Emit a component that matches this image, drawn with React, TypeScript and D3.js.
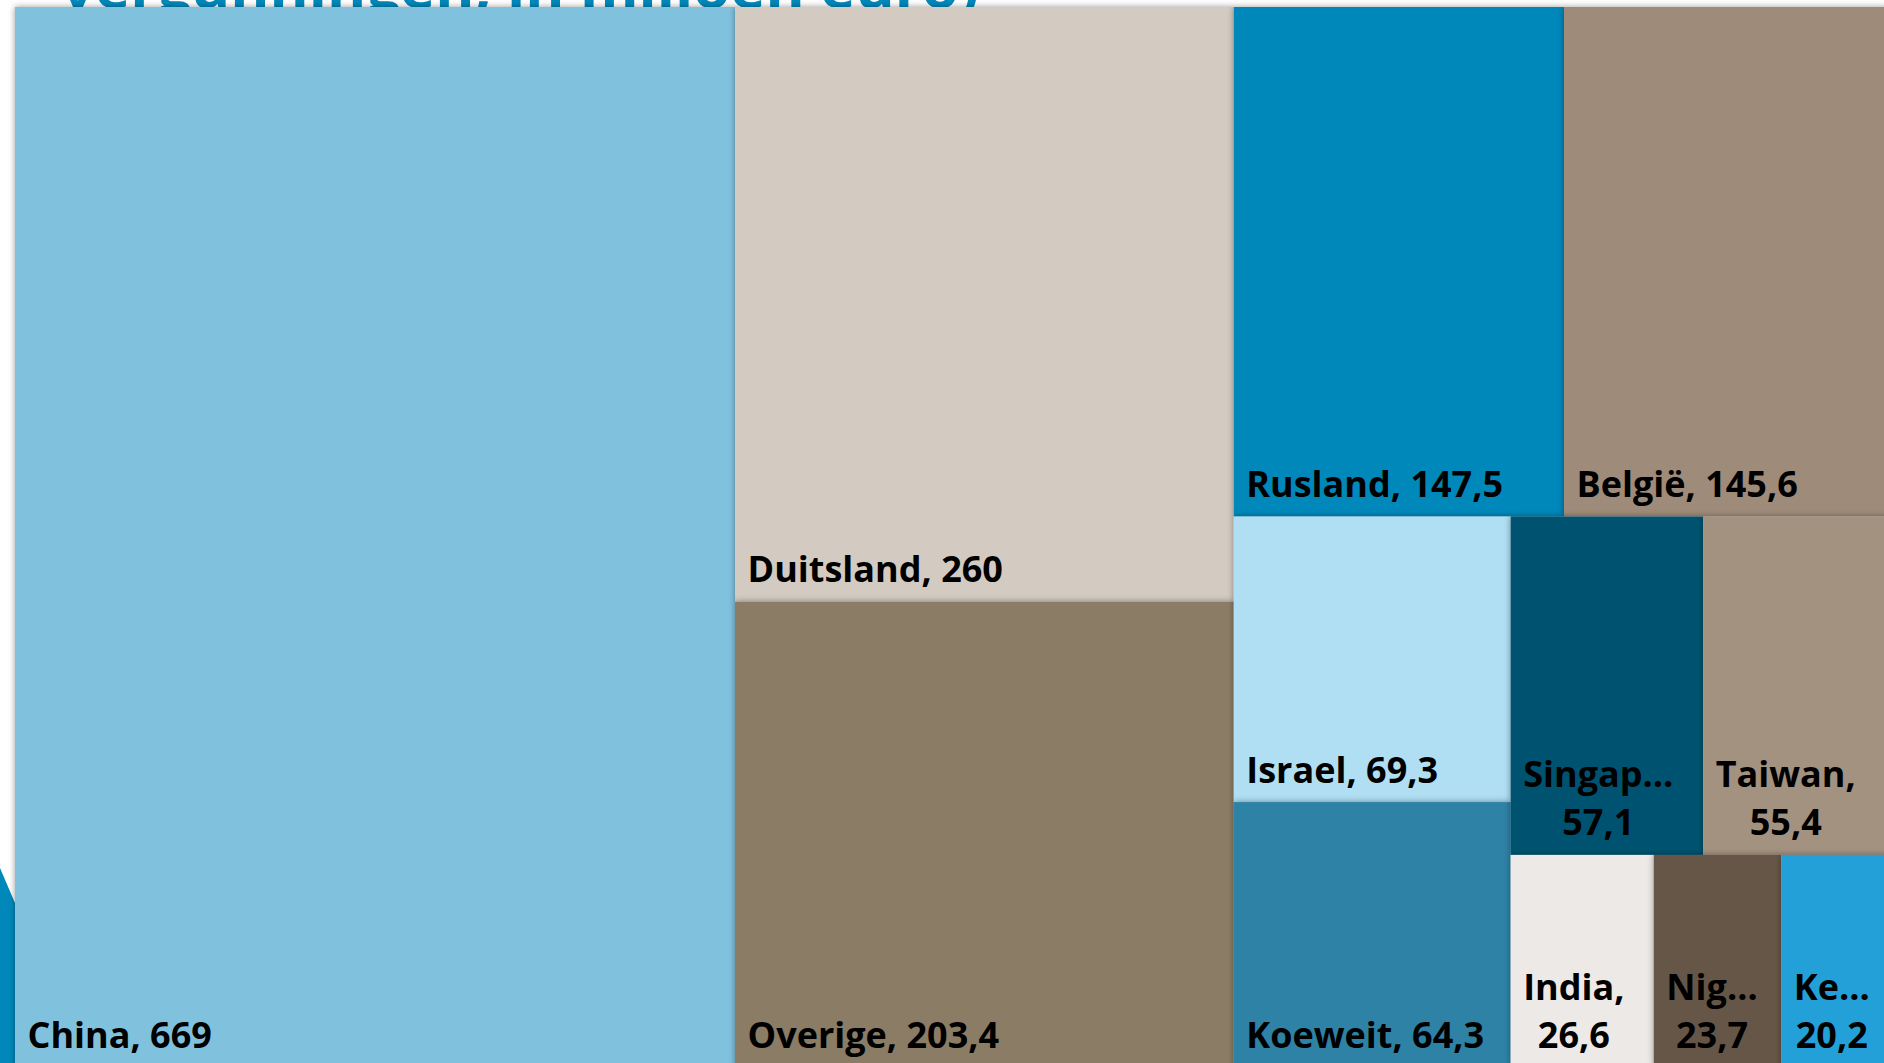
import React, { useMemo } from 'react';
import * as d3 from 'd3';

const countries = ['China', 'Duitsland', 'Overige', 'Rusland', 'België', 'Israel', 'Koeweit', 'Singapore', 'Taiwan', 'India', 'Nigeria', 'Kenia'];
const values = [669, 260, 203.4, 147.5, 145.6, 69.3, 64.3, 57.1, 55.4, 26.6, 23.7, 20.2];
const colors = ['#80C2DE', '#D3CBC1', '#8B7B65', '#0088BB', '#9F8B79', '#B0DEF2', '#2D82A6', '#005270', '#A49281', '#ECE9E6', '#665647', '#24A0D7'];
const titleText = 'vergunningen, in miljoen euro)';

const W = 1884;
const H = 1063;
const PLOT = { x0: 15, y0: 7, x1: 1890, y1: 1067 };
const FS = 36;
const LABEL_FONT = `700 ${FS}px 'Open Sans'`;
const PAD = 12.5;
const LINE = 48;
const BOTTOM = 19.5;

let ctx: CanvasRenderingContext2D | null = null;
function measure(t: string): number {
  if (!ctx) {
    const c = document.createElement('canvas');
    ctx = c.getContext('2d');
  }
  if (!ctx) return t.length * 18;
  ctx.font = LABEL_FONT;
  return ctx.measureText(t).width;
}

const fmt = (v: number) => String(v).replace('.', ',');

function labelLines(name: string, value: number, avail: number): string[] {
  const full = `${name}, ${fmt(value)}`;
  if (measure(full) <= avail) return [full];
  let first = `${name},`;
  if (measure(first) > avail) {
    first = name.slice(0, 1) + '...';
    for (let k = name.length - 1; k >= 1; k--) {
      const cand = name.slice(0, k) + '...';
      if (measure(cand) <= avail) { first = cand; break; }
    }
  }
  return [first, fmt(value)];
}

export default function App() {
  const leaves = useMemo(() => {
    const data = countries.map((c, i) => ({ name: c, value: values[i], color: colors[i] }));
    const root = d3.hierarchy<any>({ children: data }).sum((d: any) => d.value || 0);
    d3.treemap<any>()
      .tile(d3.treemapSquarify.ratio(1))
      .size([PLOT.x1 - PLOT.x0, PLOT.y1 - PLOT.y0])
      .paddingInner(0)(root);
    return root.leaves() as any[];
  }, []);

  return (
    <svg width={W} height={H} style={{ position: 'absolute', left: 0, top: 0, background: '#fff' }}>
      <defs>
        <filter id="sh" filterUnits="userSpaceOnUse" x={-50} y={-50} width={2000} height={1200}>
          <feDropShadow dx={0} dy={0} stdDeviation={3} floodColor="#000" floodOpacity={0.4} />
        </filter>
      </defs>
      <rect x={0} y={0} width={W} height={H} fill="#fff" />
      <polygon points="0,868 15,903 60,1063 0,1063" fill="#0088BB" />
      <text x={61} y={8} fill="#0088BB" fontFamily="'Open Sans'" fontWeight={700} fontSize={56}
        textLength={918} lengthAdjust="spacingAndGlyphs">{titleText}</text>
      <g transform={`translate(${PLOT.x0},${PLOT.y0})`}>
        {leaves.map((l, i) => (
          <rect key={i} x={l.x0} y={l.y0} width={l.x1 - l.x0} height={l.y1 - l.y0}
            fill={l.data.color} filter="url(#sh)" />
        ))}
        {leaves.map((l, i) => {
          const w = l.x1 - l.x0;
          const lines = labelLines(l.data.name, l.data.value, w - 2 * PAD);
          const bottom = l.y1 - BOTTOM;
          if (lines.length === 1) {
            return (
              <text key={i} x={l.x0 + PAD} y={bottom} fontFamily="'Open Sans'" fontWeight={700}
                fontSize={FS} fill="#000">{lines[0]}</text>
            );
          }
          const bw = Math.max(...lines.map(measure));
          const cx = l.x0 + PAD + bw / 2;
          return (
            <g key={i}>
              {lines.map((t, j) => (
                <text key={j} x={cx} y={bottom - (lines.length - 1 - j) * LINE} textAnchor="middle"
                  fontFamily="'Open Sans'" fontWeight={700} fontSize={FS} fill="#000">{t}</text>
              ))}
            </g>
          );
        })}
      </g>
    </svg>
  );
}
